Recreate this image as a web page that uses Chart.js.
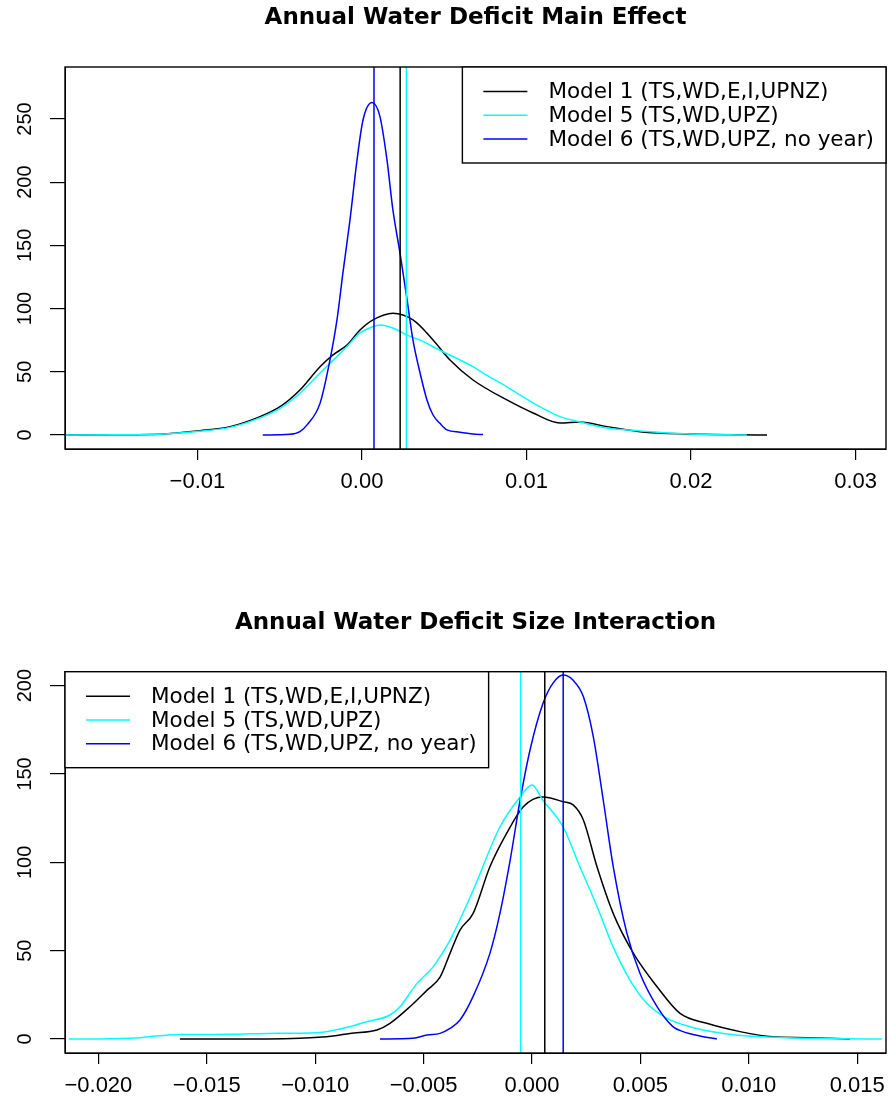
<!DOCTYPE html>
<html>
<head>
<meta charset="utf-8">
<script src="https://cdn.jsdelivr.net/npm/chart.js@4.4.1/dist/chart.umd.min.js"></script>
<style>
  body { margin: 0; background: #fff; }
  #wrap { position: relative; width: 888px; height: 1101px; }
  canvas { position: absolute; left: 0; }
</style>
</head>
<body>
<div id="wrap">
  <canvas id="mainChart" width="888" height="550" style="top:0"></canvas>
  <canvas id="sizeChart" width="888" height="551" style="top:550px"></canvas>
</div>
<script>
// legend entries shared by both panels
const modelLabels = ["Model 1 (TS,WD,E,I,UPNZ)", "Model 5 (TS,WD,UPZ)", "Model 6 (TS,WD,UPZ, no year)"];
const modelColors = ["#000000", "#00ffff", "#0000ff"];

// --- Annual Water Deficit Main Effect (density estimates) ---
const mainX1 = [-0.01805, -0.015, -0.01289, -0.00985, -0.00802, -0.0062, -0.00498, -0.00377, -0.00255, -0.00176, -0.00091, -0.00012, 0.00067, 0.00188, 0.0031, 0.00432, 0.00535, 0.00675, 0.00881, 0.0104, 0.01204, 0.01325, 0.01489, 0.0169, 0.01994, 0.02462];
const mainY1 = [0, 0.1, 0.3, 3.4, 6.6, 14.5, 22.4, 35.6, 54, 63.3, 71.2, 83, 91, 96.3, 91, 75.2, 59.3, 43.5, 27.7, 17.4, 9.5, 10.3, 6.6, 2.6, 0.8, 0];
const mainX5 = [-0.01805, -0.015, -0.01289, -0.00985, -0.00802, -0.0062, -0.00498, -0.00377, -0.00255, -0.00176, -0.00091, -0.00012, 0.00067, 0.00109, 0.00188, 0.00274, 0.00353, 0.00474, 0.00675, 0.00736, 0.00881, 0.0108, 0.01204, 0.01325, 0.01489, 0.0169, 0.01994, 0.0234];
const mainY5 = [0, 0.1, 0.3, 3.0, 6, 13.5, 21, 33, 49, 59, 70, 80.7, 85.7, 87, 84.6, 79, 75, 67, 54, 49, 38, 22.4, 14.5, 10.3, 5.5, 3.2, 0.8, 0];
const mainX6 = [-0.00603, -0.00438, -0.00377, -0.00334, -0.00255, -0.00195, -0.00152, -0.00116, -0.00073, -0.0003, 0.00006, 0.00061, 0.00109, 0.00152, 0.00188, 0.00231, 0.00274, 0.0031, 0.00353, 0.00395, 0.00432, 0.00474, 0.00517, 0.00596, 0.00675, 0.00736];
const mainY6 = [0, 0.5, 2.6, 8, 25, 59, 91, 128, 170, 217.6, 249, 263, 252, 217.6, 178, 144, 107, 75, 49, 27.7, 15.8, 9.2, 4, 2.2, 0.8, 0.3];
const mainMeans = [0.00232, 0.0027, 0.00073];
const mainXLimits = [-0.01805, 0.03185];
const mainYLimits = [-11.1, 291.1];
const mainXTicks = [-0.01, 0, 0.01, 0.02, 0.03];
const mainXTickLabels = ["\u22120.01", "0.00", "0.01", "0.02", "0.03"];
const mainYTicks = [0, 50, 100, 150, 200, 250];
const mainYTickLabels = ["0", "50", "100", "150", "200", "250"];

// --- Annual Water Deficit Size Interaction ---
const sizeX1 = [-0.01624, -0.01223, -0.0107, -0.00918, -0.0084, -0.00715, -0.00655, -0.00563, -0.00484, -0.00424, -0.00378, -0.00332, -0.00272, -0.00194, -0.00117, -0.0004, 0.00051, 0.00144, 0.0019, 0.00237, 0.003, 0.00375, 0.00468, 0.00577, 0.00683, 0.00806, 0.0096, 0.01112, 0.01266, 0.01467];
const sizeY1 = [0, 0, 0.4, 1.7, 3.2, 5.1, 8.9, 18.3, 27.7, 35, 48.5, 61.7, 71, 97.5, 116.4, 131.5, 137, 134.3, 132.5, 124, 97.5, 71, 48.5, 29.6, 14.5, 8.9, 4.2, 1.3, 0.8, 0];
const sizeX5 = [-0.02136, -0.01946, -0.01808, -0.01716, -0.01624, -0.01379, -0.01223, -0.00992, -0.0084, -0.00763, -0.00655, -0.00609, -0.0053, -0.00455, -0.00424, -0.00378, -0.00272, -0.00148, -0.00055, 0.0, 0.00051, 0.00144, 0.00221, 0.003, 0.00375, 0.00452, 0.0053, 0.00623, 0.00729, 0.00883, 0.01112, 0.01614];
const sizeY5 = [0, 0.2, 0.8, 1.9, 2.5, 2.7, 3.2, 3.6, 7, 9.8, 13.6, 18.3, 31.5, 41, 46.6, 56, 84, 120, 137, 143.8, 135, 120, 97.5, 75, 52, 33.4, 20.2, 11.7, 7, 3.2, 1, 0];
const sizeX6 = [-0.00701, -0.00549, -0.00484, -0.00424, -0.00378, -0.00332, -0.00272, -0.00194, -0.00148, -0.00101, -0.00055, -0.00009, 0.00051, 0.00097, 0.00144, 0.0019, 0.00237, 0.00283, 0.00329, 0.00375, 0.00438, 0.00498, 0.00577, 0.0065, 0.00697, 0.00775, 0.00853];
const sizeY6 = [0, 0.4, 2.3, 3.2, 6, 10.8, 24, 48.5, 71, 101, 135, 163.6, 190, 201.4, 206, 203, 193.8, 171, 135, 97.5, 59.8, 37.2, 18.3, 7, 4.2, 1.7, 0];
const sizeMeans = [0.00059, -0.00052, 0.00144];
const sizeXLimits = [-0.02154, 0.01633];
const sizeYLimits = [-7.9, 207.9];
const sizeXTicks = [-0.02, -0.015, -0.01, -0.005, 0, 0.005, 0.01, 0.015];
const sizeXTickLabels = ["\u22120.020", "\u22120.015", "\u22120.010", "\u22120.005", "0.000", "0.005", "0.010", "0.015"];
const sizeYTicks = [0, 50, 100, 150, 200];
const sizeYTickLabels = ["0", "50", "100", "150", "200"];

// box around the plot region, like R's box()
const plotBox = {
  id: "plotBox",
  afterDatasetsDraw(chart) {
    const { ctx, chartArea: a } = chart;
    ctx.save();
    ctx.strokeStyle = "#000";
    ctx.lineWidth = 1.4;
    ctx.strokeRect(a.left, a.top, a.right - a.left, a.bottom - a.top);
    ctx.restore();
  },
};

// R style legend box in a corner of the plot region
const rLegend = {
  id: "rLegend",
  afterDraw(chart, args, opts) {
    const { ctx, chartArea: a } = chart;
    ctx.save();
    ctx.font = "21.5px 'DejaVu Sans'";
    const textW = Math.max(...modelLabels.map((l) => ctx.measureText(l).width));
    const w = 86 + textW + 12;
    const h = 96;
    const left = opts.side === "right" ? a.right - w : a.left;
    const top = a.top;
    ctx.fillStyle = "#fff";
    ctx.fillRect(left, top, w, h);
    ctx.strokeStyle = "#000";
    ctx.lineWidth = 1.4;
    ctx.strokeRect(left, top, w, h);
    ctx.textBaseline = "middle";
    modelLabels.forEach((label, i) => {
      const y = top + 24.5 + i * 23.8;
      ctx.strokeStyle = modelColors[i];
      ctx.lineWidth = 1.5;
      ctx.beginPath();
      ctx.moveTo(left + 21, y);
      ctx.lineTo(left + 65, y);
      ctx.stroke();
      ctx.fillStyle = "#000";
      ctx.fillText(label, left + 86, y + 1);
    });
    ctx.restore();
  },
};

function densityChart(canvasId, cfg) {
  const datasets = [];
  cfg.curves.forEach((c, i) => {
    datasets.push({
      label: modelLabels[i],
      data: c.x.map((x, k) => ({ x: x, y: c.y[k] })),
      borderColor: modelColors[i],
      borderWidth: 1.5,
      pointRadius: 0,
      cubicInterpolationMode: "monotone",
      order: 6 - i,
    });
  });
  // vertical lines at the estimates (abline v=)
  cfg.means.forEach((m, i) => {
    datasets.push({
      label: modelLabels[i] + " estimate",
      data: [{ x: m, y: cfg.yLimits[0] }, { x: m, y: cfg.yLimits[1] }],
      borderColor: modelColors[i],
      borderWidth: 1.5,
      pointRadius: 0,
      order: 3 - i,
    });
  });

  return new Chart(document.getElementById(canvasId), {
    type: "line",
    data: { datasets: datasets },
    plugins: [plotBox, rLegend],
    options: {
      responsive: false,
      animation: false,
      events: [],
      layout: { padding: { left: 0, right: 2, top: 0, bottom: 0 } },
      plugins: {
        legend: { display: false },
        tooltip: { enabled: false },
        title: {
          display: true,
          fullSize: false, // centre over the plot region, as R does
          text: cfg.title,
          color: "#000",
          font: { family: "'DejaVu Sans'", size: 23, weight: "bold", lineHeight: 1.2 },
          padding: cfg.titlePadding,
        },
        rLegend: { side: cfg.legendSide },
      },
      scales: {
        x: {
          type: "linear",
          min: cfg.xLimits[0],
          max: cfg.xLimits[1],
          afterBuildTicks: (s) => { s.ticks = cfg.xTicks.map((v) => ({ value: v })); },
          afterFit: (s) => {
            s.height = cfg.xAxisHeight;
            // labels never push the plot region inwards
            s.paddingLeft = 0;
            s.paddingRight = 0;
          },
          ticks: {
            callback: (v, i) => cfg.xTickLabels[i],
            color: "#000",
            font: { family: "'Liberation Sans', Arial, sans-serif", size: 22 },
            padding: 9,
            maxRotation: 0,
            autoSkip: false,
          },
          grid: { drawOnChartArea: false, drawTicks: true, tickLength: 11, color: "#000", lineWidth: 1.2 },
          border: { display: true, color: "#000", width: 1 },
        },
        y: {
          type: "linear",
          min: cfg.yLimits[0],
          max: cfg.yLimits[1],
          afterBuildTicks: (s) => { s.ticks = cfg.yTicks.map((v) => ({ value: v })); },
          afterFit: (s) => {
            s.width = 65;
            s.paddingTop = 0;
            s.paddingBottom = 0;
          },
          ticks: {
            callback: (v, i) => cfg.yTickLabels[i],
            color: "#000",
            font: { family: "'Liberation Sans', Arial, sans-serif", size: 20 },
            minRotation: 90,
            maxRotation: 90,
            crossAlign: "center",
            padding: 8,
            autoSkip: false,
          },
          grid: { drawOnChartArea: false, drawTicks: true, tickLength: 15, color: "#000", lineWidth: 1.2 },
          border: { display: true, color: "#000", width: 1 },
        },
      },
    },
  });
}

densityChart("mainChart", {
  title: "Annual Water Deficit Main Effect",
  titlePadding: { top: 4.7, bottom: 34.7 },
  curves: [
    { x: mainX1, y: mainY1 },
    { x: mainX5, y: mainY5 },
    { x: mainX6, y: mainY6 },
  ],
  means: mainMeans,
  xLimits: mainXLimits,
  yLimits: mainYLimits,
  xTicks: mainXTicks,
  xTickLabels: mainXTickLabels,
  yTicks: mainYTicks,
  yTickLabels: mainYTickLabels,
  xAxisHeight: 101,
  legendSide: "right",
});

densityChart("sizeChart", {
  title: "Annual Water Deficit Size Interaction",
  titlePadding: { top: 59.5, bottom: 34.6 },
  curves: [
    { x: sizeX1, y: sizeY1 },
    { x: sizeX5, y: sizeY5 },
    { x: sizeX6, y: sizeY6 },
  ],
  means: sizeMeans,
  xLimits: sizeXLimits,
  yLimits: sizeYLimits,
  xTicks: sizeXTicks,
  xTickLabels: sizeXTickLabels,
  yTicks: sizeYTicks,
  yTickLabels: sizeYTickLabels,
  xAxisHeight: 48,
  legendSide: "left",
});
</script>
</body>
</html>
